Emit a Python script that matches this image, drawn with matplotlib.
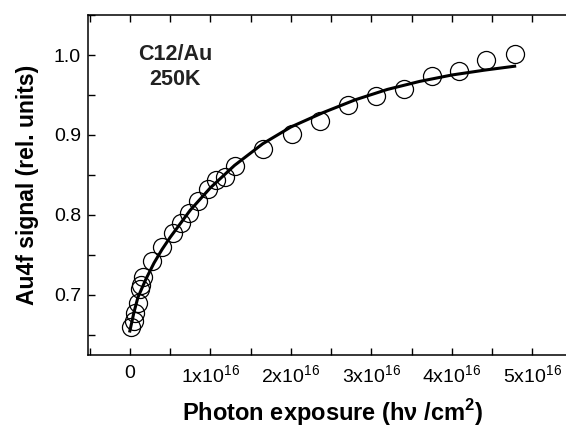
import numpy as np
import matplotlib
matplotlib.use("Agg")
import matplotlib.pyplot as plt
from matplotlib.ticker import MultipleLocator, FuncFormatter

plt.rcParams['font.family'] = ['Liberation Sans', 'DejaVu Sans']
plt.rcParams['mathtext.fontset'] = 'custom'
plt.rcParams['mathtext.rm'] = 'Liberation Sans'
plt.rcParams['mathtext.bf'] = 'Liberation Sans:bold'

# measured points (exposure in units of 1e16 photons/cm^2)
exposure = [0.02, 0.05, 0.07, 0.10, 0.12, 0.14, 0.16, 0.27, 0.40, 0.53, 0.64, 0.74,
            0.85, 0.97, 1.07, 1.18, 1.30, 1.65, 2.01, 2.36, 2.71, 3.06, 3.40, 3.75,
            4.09, 4.43, 4.78]
signal = [0.660, 0.667, 0.678, 0.690, 0.708, 0.712, 0.722, 0.742, 0.760, 0.778, 0.790, 0.803,
          0.818, 0.833, 0.844, 0.848, 0.861, 0.882, 0.901, 0.918, 0.937, 0.949, 0.958, 0.974,
          0.980, 0.994, 1.001]

# fit curve
fit_x = [0, 0.05, 0.1, 0.2, 0.3, 0.4, 0.5, 0.75, 1.0, 1.3, 1.65, 2.0, 2.4, 2.8, 3.2, 3.6, 4.0, 4.4, 4.78]
fit_y = [0.655, 0.678, 0.697, 0.720, 0.740, 0.757, 0.772, 0.806, 0.834, 0.862, 0.889, 0.910,
         0.928, 0.944, 0.957, 0.967, 0.975, 0.981, 0.986]

scale = 1e16

fig = plt.figure(figsize=(5.66, 4.30), dpi=100)
# right spine sits just past the edge of the picture
ax = fig.add_axes([88 / 566, 75 / 430, 490 / 566, 340 / 430])

ax.plot(np.array(exposure) * scale, signal, 'o', ms=13, mfc='none', mec='black', mew=0.9)
ax.plot(np.array(fit_x) * scale, fit_y, '-', color='black', lw=2.2)

ax.set_xlim(-0.52e16, 5.567e16)
ax.set_ylim(0.625, 1.05)

ax.xaxis.set_major_locator(MultipleLocator(1e16))
ax.xaxis.set_minor_locator(MultipleLocator(0.5e16))
ax.yaxis.set_major_locator(MultipleLocator(0.1))
ax.yaxis.set_minor_locator(MultipleLocator(0.05))

def xfmt(v, pos):
    n = int(round(v / scale))
    if n == 0:
        return '0'
    return r'%dx10$^{16}$' % n

ax.xaxis.set_major_formatter(FuncFormatter(xfmt))
ax.yaxis.set_major_formatter(FuncFormatter(lambda v, p: '%.1f' % v))

ax.tick_params(which='both', direction='in', top=True, right=True, labelsize=14,
               width=1, length=5)
ax.tick_params(axis='x', pad=7)
ax.tick_params(axis='y', pad=5)
for s in ax.spines.values():
    s.set_linewidth(1.1)

ax.set_xlabel(r'Photon exposure (hν /cm$^{\mathbf{2}}$)', fontsize=17, fontweight='bold', labelpad=7)
ax.set_ylabel('Au4f signal (rel. units)', fontsize=16.5, fontweight='bold', labelpad=11)

ax.text(0.56e16, 0.985, 'C12/Au\n250K', ha='center', va='center', fontsize=15.5,
        fontweight='bold', color='#222222', linespacing=1.25)

fig.savefig('out.png', dpi=100)
